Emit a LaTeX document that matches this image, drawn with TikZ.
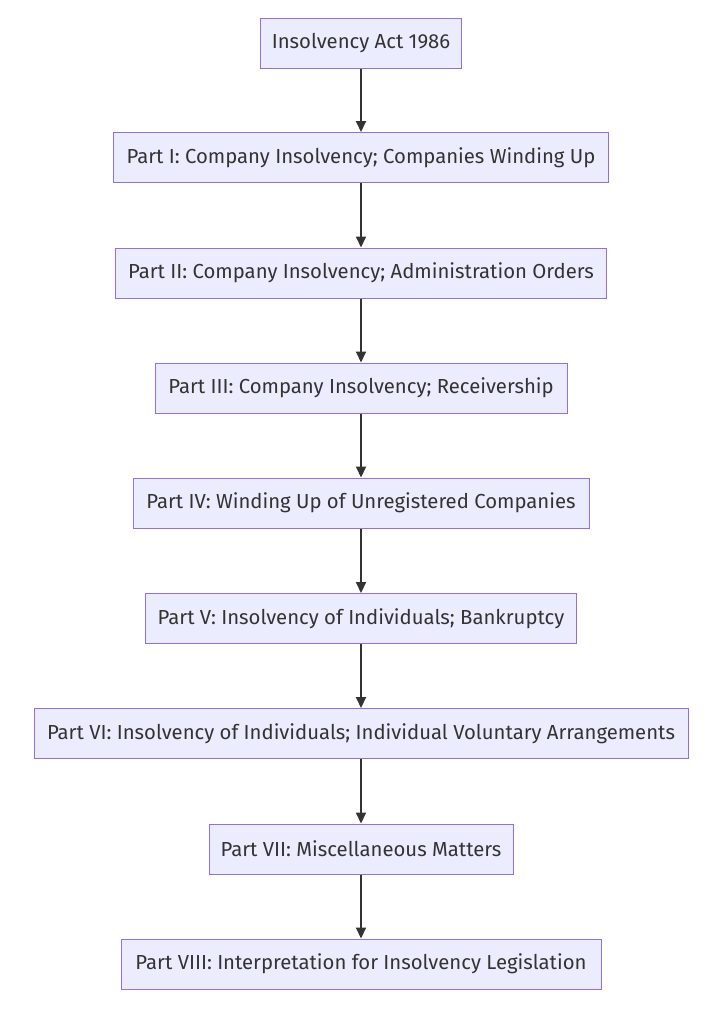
\documentclass[tikz,border=0pt]{standalone}
\usepackage{fontspec}
\setmainfont{Fira Sans}
\usetikzlibrary{arrows.meta}
\definecolor{nfill}{HTML}{ECECFF}
\definecolor{nborder}{HTML}{9370DB}
\definecolor{arr}{HTML}{333333}
\begin{document}
\begin{tikzpicture}[x=1pt,y=-1pt,
  box/.style={draw=nborder,fill=nfill,line width=1pt,minimum height=50pt,inner sep=0pt,font=\fontsize{20.3}{22}\selectfont,text=arr},
  link/.style={draw=arr,line width=2pt,-{Triangle[length=11pt,width=10pt]}}]
\useasboundingbox (0,0) rectangle (720,1012);
\node[box,minimum width=201pt] (n1) at (361,43) {Insolvency Act 1986};
\node[box,minimum width=495pt] (n2) at (361,157.5) {Part I: Company Insolvency; Companies Winding Up};
\node[box,minimum width=491pt] (n3) at (361,273) {Part II: Company Insolvency; Administration Orders};
\node[box,minimum width=412pt] (n4) at (361,388) {Part III: Company Insolvency; Receivership};
\node[box,minimum width=456pt] (n5) at (361,503) {Part IV: Winding Up of Unregistered Companies};
\node[box,minimum width=431pt] (n6) at (361,618.5) {Part V: Insolvency of Individuals; Bankruptcy};
\node[box,minimum width=654pt] (n7) at (361,733.5) {Part VI: Insolvency of Individuals; Individual Voluntary Arrangements};
\node[box,minimum width=304pt] (n8) at (361,849) {Part VII: Miscellaneous Matters};
\node[box,minimum width=480pt] (n9) at (361,964) {Part VIII: Interpretation for Insolvency Legislation};
\foreach \a/\b in {n1/n2,n2/n3,n3/n4,n4/n5,n5/n6,n6/n7,n7/n8,n8/n9}
  \draw[link] (\a.south) -- (\b.north);
\end{tikzpicture}
\end{document}
